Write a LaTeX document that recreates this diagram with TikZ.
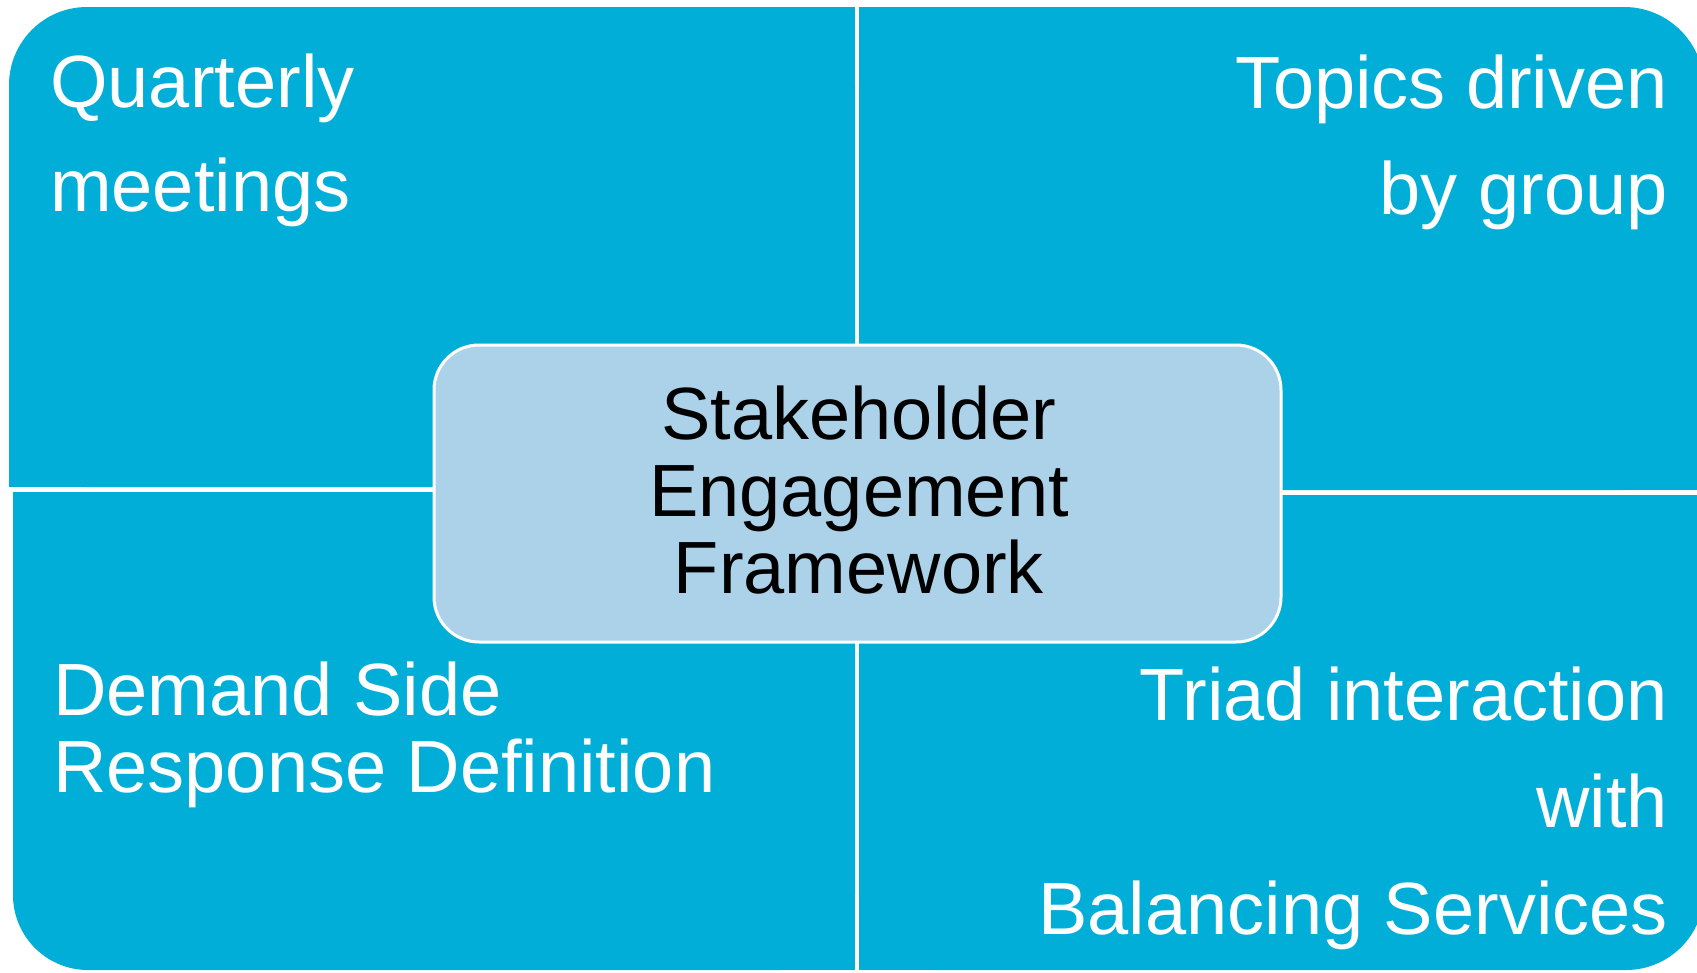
\documentclass[tikz,border=0pt]{standalone}
\usepackage{fontspec}
\setmainfont{Liberation Sans}
\definecolor{quadfill}{HTML}{00AED8}
\definecolor{corefill}{HTML}{ABD2E9}
\tikzset{
  quadtext/.style={inner sep=0pt, text=white, font=\fontsize{74}{#1}\selectfont},
  frame/.style={draw=white, line width=3pt, fill=corefill, rounded corners=45pt,
    minimum width=847pt, minimum height=297pt, inner sep=0pt},
  coretext/.style={inner sep=0pt, text=black, align=center, font=\fontsize{74}{77}\selectfont}
}
\begin{document}
\begin{tikzpicture}[x=1pt,y=-1pt]
\useasboundingbox (0,0) rectangle (1697,972);
\fill[white] (0,0) rectangle (1697,972);
% top-left quadrant
\fill[quadfill, rounded corners=78pt] (9,7) rectangle (855,487);
\fill[quadfill] (100,7) rectangle (855,487);
\fill[quadfill] (9,100) rectangle (855,487);
% top-right quadrant
\fill[quadfill, rounded corners=80pt] (859,7) rectangle (1704,490);
\fill[quadfill] (859,7) rectangle (1600,490);
\fill[quadfill] (859,100) rectangle (1704,490);
% bottom-left quadrant
\fill[quadfill, rounded corners=75pt] (13,492) rectangle (855,970);
\fill[quadfill] (100,492) rectangle (855,970);
\fill[quadfill] (13,492) rectangle (855,880);
% bottom-right quadrant
\fill[quadfill, rounded corners=78pt] (859,495) rectangle (1704,970);
\fill[quadfill] (859,495) rectangle (1600,970);
\fill[quadfill] (859,495) rectangle (1704,880);
% texts (base anchor = baseline of the last line)
\node[quadtext=104, align=left, anchor=base west] (tl) at (50,211) {Quarterly\\meetings};
\node[quadtext=106, align=right, anchor=base east] (tr) at (1668,214) {Topics driven\\by group};
\node[quadtext=77, align=left, anchor=base west] (bl) at (53,792) {Demand Side\\Response Definition};
\node[quadtext=107, align=right, anchor=base east] (br) at (1668,934) {Triad interaction\\with\\Balancing Services};
% centre
\node[frame] (core) at (857.5,493.5) {};
\node[coretext, anchor=base] (coretxt) at (859,593) {Stakeholder\\Engagement\\Framework};
\end{tikzpicture}
\end{document}
